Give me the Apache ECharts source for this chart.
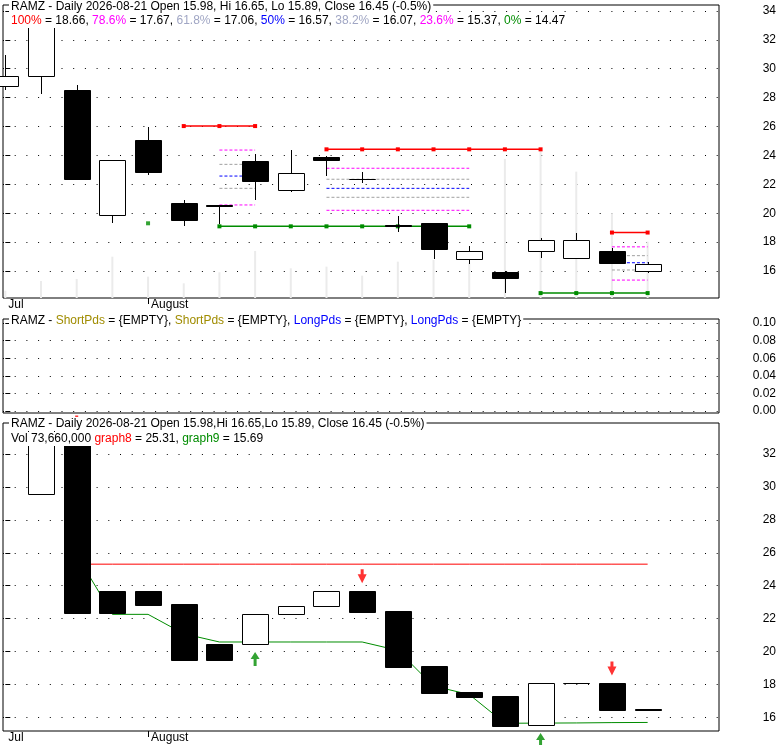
<!DOCTYPE html>
<html><head><meta charset="utf-8">
<script src="https://cdn.jsdelivr.net/npm/echarts@6/dist/echarts.min.js"></script>
<style>html,body{margin:0;padding:0;background:#fff}#c{width:780px;height:745px}</style>
</head><body><div id="c"></div>
<script>
// ---------------- data ----------------
const ticker = 'RAMZ';
const dates = ['2026-07-28','2026-07-29','2026-07-30','2026-07-31','2026-08-03','2026-08-04','2026-08-05','2026-08-06','2026-08-07','2026-08-10','2026-08-11','2026-08-12','2026-08-13','2026-08-14','2026-08-17','2026-08-18','2026-08-19','2026-08-20','2026-08-21'];
const opens  = [28.80, 29.49, 28.53, 19.85, 25.07, 20.71, 20.56, 23.61, 21.58, 23.91, 22.36, 19.16, 19.34, 16.81, 15.93, 17.36, 16.88, 17.38, 15.98];
const highs  = [30.95, 34.00, 28.87, 23.66, 25.97, 20.91, 20.56, 24.10, 24.37, 23.95, 22.83, 19.81, 19.34, 17.73, 16.00, 18.28, 18.66, 17.61, 16.65];
const lows   = [28.53, 28.25, 22.32, 19.34, 22.64, 19.11, 19.25, 20.91, 21.49, 22.60, 22.07, 18.72, 16.81, 16.48, 14.47, 16.92, 16.88, 16.53, 15.89];
const closes = [29.49, 33.60, 22.39, 23.66, 22.87, 19.55, 20.50, 22.25, 22.76, 23.66, 22.38, 19.10, 17.52, 17.38, 15.54, 18.15, 18.15, 16.53, 16.45];
const volumesM = [9.5, 22.2, 24.9, 54.0, 27.9, 19.2, 33.6, 61.5, 38.8, 41.0, 29.2, 47.5, 49.7, 45.4, 181.8, 192.3, 165.2, 110.8, 73.66];

const monthTickIdx = [0, 4];
const monthTickText = ['Jul', 'August'];
const priceTicks = [16, 18, 20, 22, 24, 26, 28, 30, 32, 34];
const pdsTicks = [0, 0.02, 0.04, 0.06, 0.08, 0.10];
const boxTicks = [16, 18, 20, 22, 24, 26, 28, 30, 32];

// Fibonacci retracement sets
const fibPct = ['100%', '78.6%', '61.8%', '50%', '38.2%', '23.6%', '0%'];
const fib1Levels = [26.03, 24.37, 23.38, 22.57, 21.72, 20.57, 19.09];
const fib2Levels = [24.42, 23.11, 22.35, 21.72, 21.10, 20.20, 19.09];
const fib3Levels = [18.66, 17.67, 17.06, 16.57, 16.07, 15.37, 14.47];
const fib1HiSpan = [5, 7], fib1MidSpan = [6, 7], fib1LoSpan = [6, 13];
const fib2HiSpan = [9, 15], fib2MidSpan = [9, 13];
const fib3HiSpan = [17, 18], fib3MidSpan = [17, 18], fib3LoSpan = [15, 18];
const loneLowIdx = [4];
const loneLowVal = [19.30];

// lower panel boxes & indicators
const boxOpen  = [null, 29.56, 33.03, 23.68, 23.68, 22.89, 20.46, 20.44, 22.26, 22.75, 23.68, 22.46, 19.12, 17.54, 17.29, 15.51, 18.07, 18.07, 16.50];
const boxClose = [null, 33.50, 22.36, 22.36, 22.85, 19.50, 19.50, 22.26, 22.75, 23.66, 22.42, 19.08, 17.50, 17.25, 15.49, 18.07, 18.07, 16.46, 16.45];
const graph8 = [null, null, 25.31, 25.31, 25.31, 25.31, 25.31, 25.31, 25.31, 25.31, 25.31, 25.31, 25.31, 25.31, 25.31, 25.31, 25.31, 25.31, 25.31];
const graph9 = [null, null, 25.87, 22.26, 22.26, 21.08, 20.58, 20.58, 20.58, 20.58, 20.58, 20.07, 17.90, 17.39, 15.64, 15.65, 15.66, 15.68, 15.69];
const sellIdx = [2, 10, 17];
const buyIdx = [7, 15];

// ---------------- chart ----------------
const FONT = '"Liberation Sans", Arial, sans-serif';
const RED = '#ff0000', MAG = '#ff00ff', GRAY = '#a0a0a0', BLUE = '#0000ff', GREEN = '#008c00';
const levelColors = [RED, MAG, GRAY, BLUE, GRAY, MAG, GREEN];
const last = dates.length - 1;
const chg = ((closes[last] - closes[last - 1]) / closes[last - 1] * 100).toFixed(1);
const f2 = v => v.toFixed(2);

const head1 = `${ticker} - Daily ${dates[last]} Open ${f2(opens[last])}, Hi ${f2(highs[last])}, Lo ${f2(lows[last])}, Close ${f2(closes[last])} (${chg}%)`;
const styleKeys = ['r', 'm', 'g', 'b', 'g', 'm', 'gr'];
const head2 = fibPct.map((p, k) => `{${styleKeys[k]}|${p}} = ${f2(fib3Levels[k])}`).join(', ');
const headMid = `${ticker} - {o|ShortPds} = {EMPTY}, {o|ShortPds} = {EMPTY}, {b|LongPds} = {EMPTY}, {b|LongPds} = {EMPTY}`;
const headBot1 = `${ticker} - Daily ${dates[last]} Open ${f2(opens[last])},Hi ${f2(highs[last])},Lo ${f2(lows[last])}, Close ${f2(closes[last])} (${chg}%)`;
const headBot2 = `Vol ${Math.round(volumesM[last] * 1e6).toLocaleString('en-US')} {r|graph8} = ${f2(graph8[last])}, {gr|graph9} = ${f2(graph9[last])}`;

const rich = {
  r: {color: RED, fontSize: 12, fontFamily: FONT},
  m: {color: MAG, fontSize: 12, fontFamily: FONT},
  g: {color: '#a0a6c4', fontSize: 12, fontFamily: FONT},
  b: {color: BLUE, fontSize: 12, fontFamily: FONT},
  gr: {color: GREEN, fontSize: 12, fontFamily: FONT},
  o: {color: '#a08c00', fontSize: 12, fontFamily: FONT}
};
function mkTitle(text, top) {
  return {
    text, left: 9, top, padding: [0, 2], backgroundColor: '#fff',
    textStyle: {fontSize: 12, fontWeight: 'normal', fontFamily: FONT, color: '#000', lineHeight: 14, rich}
  };
}

const xMin = -0.065, xMax = 20;
const dotted = {color: '#000', width: 1, type: [1, 10.7]};

function xAxisFor(grid, showLabels) {
  return {
    type: 'value', gridIndex: grid, min: xMin, max: xMax,
    axisLine: {show: false, onZero: false}, splitLine: {show: false},
    axisTick: {show: showLabels, customValues: monthTickIdx.slice(1), length: 6, lineStyle: {color: '#000'}},
    axisLabel: {
      show: showLabels, customValues: monthTickIdx,
      formatter: v => monthTickText[monthTickIdx.indexOf(v)] || '',
      align: 'left', padding: [0, 0, 0, 3], margin: 1, color: '#000', fontSize: 12, fontFamily: FONT
    }
  };
}
function yAxisFor(grid, min, max, splitNumber, ticks, fmt) {
  return {
    type: 'value', gridIndex: grid, position: 'right', min, max, splitNumber,
    axisLine: {show: false},
    axisTick: {show: true, customValues: ticks, length: 5, lineStyle: {color: '#000'}},
    axisLabel: {customValues: ticks, formatter: fmt, align: 'right', margin: 57, color: '#000', fontSize: 12, fontFamily: FONT},
    splitLine: {show: true, lineStyle: dotted}
  };
}

function span(s, v) {
  const out = [];
  for (let i = s[0]; i <= s[1]; i++) out.push([i, v]);
  return out;
}
const fibSeries = [];
function solidFib(s, v, color) {
  fibSeries.push({type: 'line', xAxisIndex: 0, yAxisIndex: 0, data: span(s, v), symbol: 'rect', symbolSize: 4, showSymbol: true,
    lineStyle: {color, width: 1.5}, itemStyle: {color}, z: 2, silent: true});
}
function dashFib(s, v, color) {
  fibSeries.push({type: 'line', xAxisIndex: 0, yAxisIndex: 0, data: [[s[0], v], [s[1], v]], symbol: 'none',
    lineStyle: {color, width: 1, type: [3, 2]}, z: 2, silent: true});
}
function addSet(levels, hiSpan, midSpan, loSpan) {
  solidFib(hiSpan, levels[0], RED);
  for (let k = 1; k <= 5; k++) dashFib(midSpan, levels[k], levelColors[k]);
  if (loSpan) solidFib(loSpan, levels[6], GREEN);
}
addSet(fib1Levels, fib1HiSpan, fib1MidSpan, fib1LoSpan);
addSet(fib2Levels, fib2HiSpan, fib2MidSpan, null);
addSet(fib3Levels, fib3HiSpan, fib3MidSpan, fib3LoSpan);

function renderCandle(params, api) {
  const i = api.value(0), o = api.value(1), c = api.value(2), lo = api.value(3), hi = api.value(4);
  const w = Math.round(api.size([1, 0])[0] * 0.73);
  const pO = api.coord([i, o]), pC = api.coord([i, c]);
  const x = Math.round(pO[0]);
  const yTop = Math.round(Math.min(pO[1], pC[1])), yBot = Math.round(Math.max(pO[1], pC[1]));
  const hollow = c >= o;
  const children = [];
  if (!isNaN(lo) && !isNaN(hi)) {
    const pH = api.coord([i, hi]), pL = api.coord([i, lo]);
    children.push({type: 'line', shape: {x1: x + 0.5, y1: Math.round(pH[1]), x2: x + 0.5, y2: Math.round(pL[1])},
      style: {stroke: '#000', lineWidth: 1}});
  }
  children.push({type: 'rect', shape: {x: x - Math.round(w / 2) + 0.5, y: yTop + 0.5, width: w, height: yBot - yTop},
    style: {fill: hollow ? '#fff' : '#000', stroke: '#000', lineWidth: 1}});
  return {type: 'group', children};
}

const candleData = dates.map((d, i) => [i, opens[i], closes[i], lows[i], highs[i]]);
const boxData = [];
boxOpen.forEach((o, i) => { if (o != null) boxData.push([i, o, boxClose[i]]); });
const pairs = arr => arr.map((v, i) => v == null ? null : [i, v]).filter(p => p);

const sellPath = 'path://M3,0 L6,0 L6,5 L9,5 L4.5,14 L0,5 L3,5 Z';
const buyPath = 'path://M4.5,0 L9,7 L6,7 L6,14 L3,14 L3,7 L0,7 Z';

const option = {
  animation: false,
  backgroundColor: '#fff',
  title: [
    mkTitle(head1, 0), mkTitle(head2, 14),
    mkTitle(headMid, 314),
    mkTitle(headBot1, 417), mkTitle(headBot2, 432)
  ],
  grid: [
    {left: 3, right: 61, top: 5, height: 293, show: true, borderColor: '#000', borderWidth: 1},
    {left: 3, right: 61, top: 319, height: 94, show: true, borderColor: '#000', borderWidth: 1},
    {left: 3, right: 61, top: 423, height: 308, show: true, borderColor: '#000', borderWidth: 1}
  ],
  xAxis: [xAxisFor(0, true), xAxisFor(1, false), xAxisFor(2, true)],
  yAxis: [
    yAxisFor(0, 14.13, 34.41, 10, priceTicks, v => String(v)),
    {type: 'value', gridIndex: 0, min: 0, max: 383, show: false, splitLine: {show: false}},
    yAxisFor(1, -0.0023, 0.1046, 5, pdsTicks, v => v.toFixed(2)),
    yAxisFor(2, 15.17, 33.89, 9, boxTicks, v => String(v))
  ],
  series: [
    {type: 'bar', xAxisIndex: 0, yAxisIndex: 1, data: volumesM.map((v, i) => [i, v]), barWidth: 2,
      itemStyle: {color: '#ebebeb'}, z: 1, silent: true},
    ...fibSeries,
    {type: 'scatter', xAxisIndex: 0, yAxisIndex: 0, data: loneLowIdx.map((i, k) => [i, loneLowVal[k]]),
      symbol: 'rect', symbolSize: 4, itemStyle: {color: GREEN}, z: 2, silent: true},
    {type: 'custom', xAxisIndex: 0, yAxisIndex: 0, data: candleData, renderItem: renderCandle,
      encode: {x: 0, y: [1, 2, 3, 4]}, z: 3, silent: true},
    {type: 'line', xAxisIndex: 2, yAxisIndex: 3, data: pairs(graph8), symbol: 'none',
      lineStyle: {color: RED, width: 1}, z: 2, silent: true},
    {type: 'line', xAxisIndex: 2, yAxisIndex: 3, data: pairs(graph9), symbol: 'none',
      lineStyle: {color: GREEN, width: 1}, z: 2, silent: true},
    {type: 'custom', xAxisIndex: 2, yAxisIndex: 3, data: boxData, renderItem: renderCandle,
      encode: {x: 0, y: [1, 2]}, z: 3, silent: true},
    {type: 'scatter', xAxisIndex: 2, yAxisIndex: 3, clip: false,
      data: sellIdx.map(i => [i, Math.max(boxOpen[i], boxClose[i])]),
      symbol: sellPath, symbolSize: [9, 14], symbolOffset: [0, -14.7], itemStyle: {color: RED}, z: 4, silent: true},
    {type: 'scatter', xAxisIndex: 2, yAxisIndex: 3, clip: false,
      data: buyIdx.map(i => [i, Math.min(boxOpen[i], boxClose[i])]),
      symbol: buyPath, symbolSize: [9, 14], symbolOffset: [0, 14.7], itemStyle: {color: GREEN}, z: 4, silent: true}
  ]
};
const chart = echarts.init(document.getElementById('c'), null, {renderer: 'canvas'});
chart.setOption(option);
</script>
</body></html>
